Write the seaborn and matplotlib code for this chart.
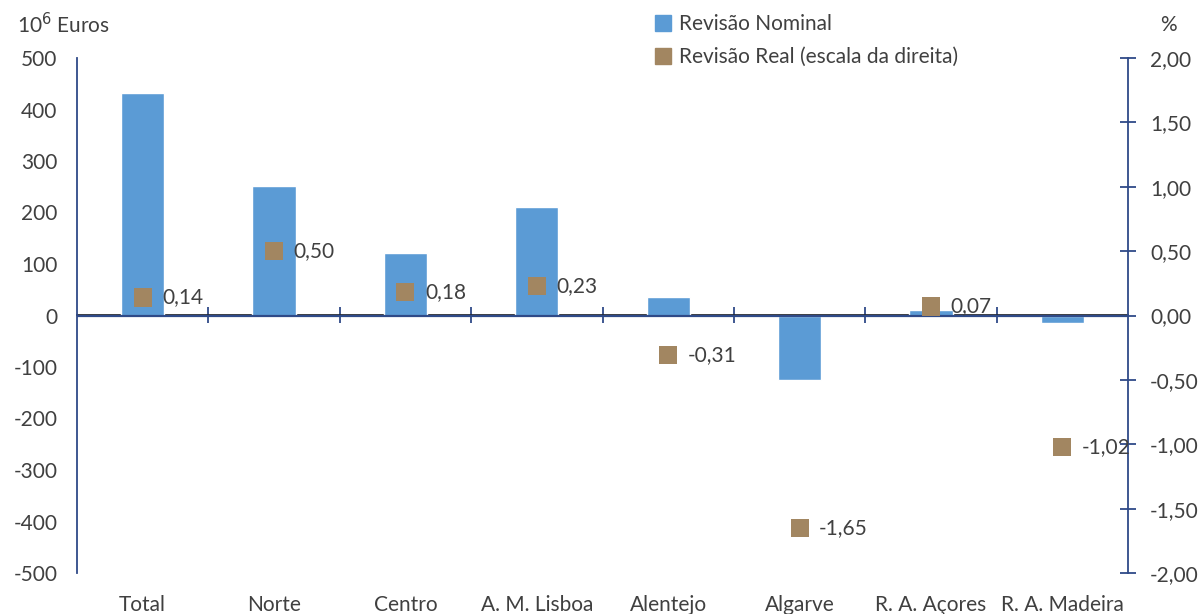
import numpy as np
import pandas as pd
import matplotlib
matplotlib.use("Agg")
import matplotlib.pyplot as plt
from matplotlib.lines import Line2D
import seaborn as sns

# Regional revisions
regioes = ["Total", "Norte", "Centro", "A. M. Lisboa", "Alentejo",
           "Algarve", "R. A. Açores", "R. A. Madeira"]
revisao_nominal = [433, 252, 122, 210, 35, -126, 10, -14]      # 10^6 euros
revisao_real = [0.14, 0.50, 0.18, 0.23, -0.31, -1.65, 0.07, -1.02]  # %

left_ticks = [-500, -400, -300, -200, -100, 0, 100, 200, 300, 400, 500]
right_ticks = [-2.0, -1.5, -1.0, -0.5, 0.0, 0.5, 1.0, 1.5, 2.0]

BAR = "#5B9BD5"
MARK = "#A28661"
AXIS = "#2F4A88"
TXT = "#404040"
FS = 15

sns.set_theme(style="white")
plt.rcParams["font.family"] = ["Lato", "DejaVu Sans"]
plt.rcParams["text.color"] = TXT
plt.rcParams["xtick.color"] = TXT
plt.rcParams["ytick.color"] = TXT

df = pd.DataFrame({"regiao": regioes, "nominal": revisao_nominal, "real": revisao_real})

fig = plt.figure(figsize=(12.03, 6.14), dpi=100)
ax = fig.add_axes([77 / 1203, 1 - 573 / 614, (1128 - 77) / 1203, (573 - 58) / 614])

sns.barplot(data=df, x="regiao", y="nominal", color=BAR, width=0.33,
            saturation=1, ax=ax, zorder=2)
ax.set_xlim(-0.5, len(regioes) - 0.5)
ax.set_ylim(-500, 500)
ax.set_yticks(left_ticks)
ax.set_yticklabels([f"{v:d}" for v in left_ticks], fontsize=FS)
ax.tick_params(axis="y", length=0, pad=14)
ax.set_xlabel("")
ax.set_ylabel("")
ax.tick_params(axis="x", length=0, pad=16, labelsize=FS)

for s in ["top", "right", "bottom"]:
    ax.spines[s].set_visible(False)
ax.spines["left"].set_color(AXIS)
ax.spines["left"].set_linewidth(1.3)

# category axis drawn through zero, with boundary ticks
zero_axis = ax.secondary_xaxis(0.5)
zero_axis.set_xticks(np.arange(len(regioes) - 1) + 0.5)
zero_axis.set_xticklabels([])
zero_axis.tick_params(axis="x", direction="inout", length=12, width=1.3, color=AXIS)
zero_axis.spines["bottom"].set_color(AXIS)
zero_axis.spines["bottom"].set_linewidth(1.6)
ax.axhline(0, color=AXIS, lw=1.6, zorder=3)

# right-hand scale
ax2 = ax.twinx()
sns.scatterplot(x=np.arange(len(regioes)), y=revisao_real, marker="s", s=170,
                color=MARK, edgecolor="none", ax=ax2, zorder=4, legend=False)
ax2.set_ylim(-2, 2)
ax2.set_yticks(right_ticks)
ax2.set_yticklabels([f"{v:.2f}".replace(".", ",") for v in right_ticks], fontsize=FS)
ax2.tick_params(axis="y", direction="inout", length=12, width=1.3, color=AXIS, pad=10)
for s in ["top", "left", "bottom"]:
    ax2.spines[s].set_visible(False)
ax2.spines["right"].set_color(AXIS)
ax2.spines["right"].set_linewidth(1.3)
ax2.set_ylabel("")

for i, v in enumerate(revisao_real):
    ax2.annotate(f"{v:.2f}".replace(".", ","), (i, v), xytext=(14, 0),
                 textcoords="offset points", ha="left", va="center",
                 fontsize=FS, color=TXT, zorder=5)

fig.text(17 / 1203, 1 - 25 / 614, r"10$^{6}$ Euros", fontsize=FS, va="center", ha="left")
fig.text(1168 / 1203, 1 - 25 / 614, "%", fontsize=FS, va="center", ha="center")

handles = [Line2D([], [], marker="s", ls="none", color=BAR, markersize=11),
           Line2D([], [], marker="s", ls="none", color=MARK, markersize=11)]
fig.legend(handles, ["Revisão Nominal", "Revisão Real (escala da direita)"],
           loc="upper left", bbox_to_anchor=(646 / 1203, 1 - 6 / 614),
           frameon=False, fontsize=FS, handlelength=0.8, handletextpad=0.4,
           labelspacing=0.6, borderaxespad=0)

fig.savefig("out.png", dpi=100)
